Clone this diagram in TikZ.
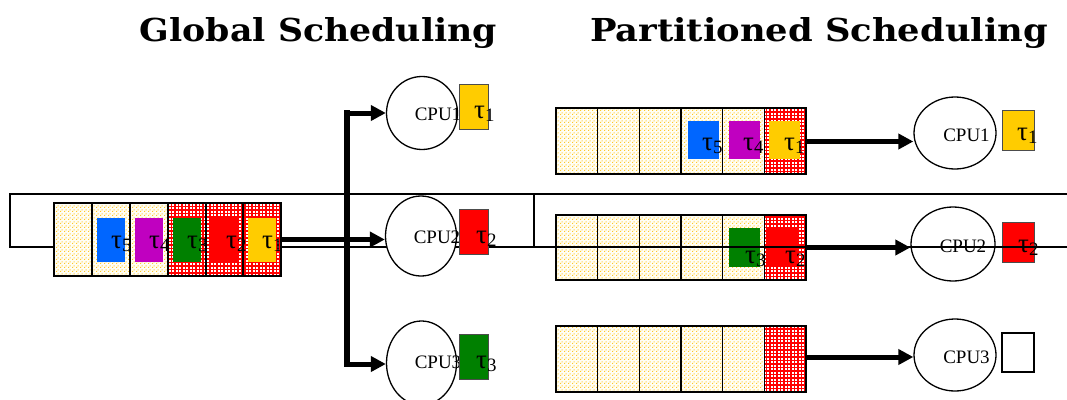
\documentclass[tikz,border=0pt]{standalone}
\usepackage{fontspec}
\setmainfont{Liberation Serif}
\newfontfamily\titlefont{DejaVu Serif}
\usetikzlibrary{arrows.meta,patterns,shapes.geometric}
\definecolor{tblue}{RGB}{0,102,255}
\definecolor{tmag}{RGB}{192,0,192}
\definecolor{tgreen}{RGB}{0,128,0}
\definecolor{tred}{RGB}{255,0,0}
\definecolor{tyel}{RGB}{255,204,0}
\definecolor{dotyel}{RGB}{255,200,40}
\pgfdeclarepatternformonly{ydots}{\pgfpointorigin}{\pgfpoint{4pt}{4pt}}{\pgfpoint{4pt}{4pt}}{%
  \pgfpathrectangle{\pgfpointorigin}{\pgfpoint{1.3pt}{1.3pt}}%
  \pgfpathrectangle{\pgfpoint{2pt}{2pt}}{\pgfpoint{1.3pt}{1.3pt}}%
  \pgfusepath{fill}}
\pgfdeclarepatternformonly{rgrid}{\pgfpoint{-1pt}{-1pt}}{\pgfpoint{4.5pt}{4.5pt}}{\pgfpoint{3.5pt}{3.5pt}}{%
  \pgfsetlinewidth{1.3pt}%
  \pgfpathmoveto{\pgfpoint{-0.5pt}{0pt}}\pgfpathlineto{\pgfpoint{4pt}{0pt}}%
  \pgfpathmoveto{\pgfpoint{0pt}{-0.5pt}}\pgfpathlineto{\pgfpoint{0pt}{4pt}}%
  \pgfusepath{stroke}}
\newcommand\taulab[1]{{\fontsize{27}{27}\selectfont τ\textsubscript{#1}}}
\begin{document}
\begin{tikzpicture}[x=1pt,y=-1pt,
  ycell/.style={draw, line width=1.3pt, inner sep=0, preaction={fill=yellow!4}, pattern=ydots, pattern color=dotyel},
  rcell/.style={draw, line width=1.3pt, inner sep=0, preaction={fill=white}, pattern=rgrid, pattern color=tred},
  task/.style={inner sep=0, draw=none},
  tbox/.style={inner sep=0, draw=black!70, line width=0.8pt},
  cpu/.style={ellipse, draw, line width=1.3pt, fill=white, inner sep=0},
  cpulab/.style={anchor=base, inner sep=0, font=\fontsize{19}{19}\selectfont},
  tlab/.style={anchor=base west, inner sep=0},
  frame/.style={line width=1.3pt},
  bigarrow/.style={line width=5pt, -{Triangle[length=15pt,width=15pt]}},
  title/.style={anchor=base, inner sep=0, font=\titlefont\bfseries\fontsize{27}{27}\selectfont}
]
\useasboundingbox (0,0) rectangle (1067,399);

% titles
\node[title] (t1) at (318.5,41) {\resizebox{357pt}{24pt}{Global Scheduling}};
\node[title] (t2) at (819,41) {\resizebox{458pt}{24pt}{Partitioned Scheduling}};

% left frame
\draw[frame] (10,194) rectangle (534,247);

% ---------- global queue ----------
\node[ycell, minimum width=38, minimum height=73] (g1) at (73,239.5) {};
\node[ycell, minimum width=38, minimum height=73] (g2) at (111,239.5) {};
\node[ycell, minimum width=38, minimum height=73] (g3) at (149,239.5) {};
\node[rcell, minimum width=38, minimum height=73] (g4) at (187,239.5) {};
\node[rcell, minimum width=37, minimum height=73] (g5) at (224.5,239.5) {};
\node[rcell, minimum width=38, minimum height=73] (g6) at (262,239.5) {};

\node[task, fill=tblue, minimum width=28, minimum height=44] (gb5) at (111,240) {};
\node[task, fill=tmag, minimum width=28, minimum height=44] (gb4) at (149,240) {};
\node[task, fill=tgreen, minimum width=28, minimum height=44] (gb3) at (186.5,240) {};
\node[task, fill=tred, minimum width=28, minimum height=44] (gb2) at (224.5,240) {};
\node[task, fill=tyel, minimum width=28, minimum height=44] (gb1) at (262,240) {};
\node[tlab] (gl5) at (111,248) {\taulab{5}};
\node[tlab] (gl4) at (149,248) {\taulab{4}};
\node[tlab] (gl3) at (187,248) {\taulab{3}};
\node[tlab] (gl2) at (226,248) {\taulab{2}};
\node[tlab] (gl1) at (262,248) {\taulab{1}};

% global CPUs
\node[cpu, minimum width=71, minimum height=73] (gc1) at (422,113) {};
\node[cpu, minimum width=71, minimum height=80] (gc2) at (421,236) {};
\node[cpu, minimum width=70, minimum height=84] (gc3) at (421.5,363) {};
\node[cpulab] (gct1) at (438,120) {CPU1};
\node[cpulab] (gct2) at (437,243) {CPU2};
\node[cpulab] (gct3) at (438,368) {CPU3};

% global arrows
\coordinate (jt) at (347,113);
\coordinate (jb) at (347,364);
\draw[line width=5.5pt, line cap=rect] (jt) -- (jb);
\draw[bigarrow] (jt) -- (jt -| gc1.west);
\draw[bigarrow] (jb) -- (jb -| gc3.west);
\draw[bigarrow] (g6.east) -- (g6.east -| gc2.west);

% global CPU task boxes
\node[tbox, fill=tyel, minimum width=29, minimum height=45] (gt1) at (473.5,106.5) {};
\node[tbox, fill=tred, minimum width=29, minimum height=45] (gt2) at (473.5,231.5) {};
\node[tbox, fill=tgreen, minimum width=29, minimum height=45] (gt3) at (473.5,356.5) {};
\node[tlab] (gtl1) at (474,118) {\taulab{1}};
\node[tlab] (gtl2) at (476,243) {\taulab{2}};
\node[tlab] (gtl3) at (476,368) {\taulab{3}};

% ---------- partitioned queues ----------
% queue 1
\node[ycell, minimum width=41.7, minimum height=66] (a1) at (576.8,141) {};
\node[ycell, minimum width=41.7, minimum height=66] (a2) at (618.5,141) {};
\node[ycell, minimum width=41.7, minimum height=66] (a3) at (660.2,141) {};
\node[ycell, minimum width=41.7, minimum height=66] (a4) at (701.8,141) {};
\node[ycell, minimum width=41.7, minimum height=66] (a5) at (743.5,141) {};
\node[rcell, minimum width=41.7, minimum height=66] (a6) at (785.2,141) {};
\node[task, fill=tblue, minimum width=31, minimum height=38] (ab5) at (703.5,140) {};
\node[task, fill=tmag, minimum width=31, minimum height=38] (ab4) at (744.5,140) {};
\node[task, fill=tyel, minimum width=31, minimum height=38] (ab1) at (784.5,140) {};
\node[tlab] (al5) at (702,150) {\taulab{5}};
\node[tlab] (al4) at (743,150) {\taulab{4}};
\node[tlab] (al1) at (784,150) {\taulab{1}};

% queue 2
\node[ycell, minimum width=41.7, minimum height=65] (b1) at (576.8,247.5) {};
\node[ycell, minimum width=41.7, minimum height=65] (b2) at (618.5,247.5) {};
\node[ycell, minimum width=41.7, minimum height=65] (b3) at (660.2,247.5) {};
\node[ycell, minimum width=41.7, minimum height=65] (b4) at (701.8,247.5) {};
\node[ycell, minimum width=41.7, minimum height=65] (b5) at (743.5,247.5) {};
\node[rcell, minimum width=41.7, minimum height=65] (b6) at (785.2,247.5) {};
\node[task, fill=tgreen, minimum width=31, minimum height=39] (bb3) at (744,247.5) {};
\node[task, fill=tred, minimum width=31, minimum height=39] (bb2) at (782,247.5) {};
\node[tlab] (bl3) at (745,263) {\taulab{3}};
\node[tlab] (bl2) at (785,263) {\taulab{2}};

% queue 3
\node[ycell, minimum width=41.7, minimum height=66] (c1) at (576.8,359) {};
\node[ycell, minimum width=41.7, minimum height=66] (c2) at (618.5,359) {};
\node[ycell, minimum width=41.7, minimum height=66] (c3) at (660.2,359) {};
\node[ycell, minimum width=41.7, minimum height=66] (c4) at (701.8,359) {};
\node[ycell, minimum width=41.7, minimum height=66] (c5) at (743.5,359) {};
\node[rcell, minimum width=41.7, minimum height=66] (c6) at (785.2,359) {};

% partitioned CPUs
\node[cpu, minimum width=82, minimum height=72] (pc1) at (955,133) {};
\node[cpu, minimum width=84, minimum height=74] (pc2) at (953,244) {};
\node[cpu, minimum width=82, minimum height=72] (pc3) at (955,355) {};
\node[cpulab] (pct1) at (966.5,141) {CPU1};
\node[cpulab] (pct2) at (963,252) {CPU2};
\node[cpulab] (pct3) at (966.5,363) {CPU3};

\draw[bigarrow] ([yshift=-0.5pt]a6.east) -- ([yshift=-0.5pt]a6.east -| pc1.west);
\draw[bigarrow] (b6.east) -- (b6.east -| pc2.west);
\draw[bigarrow] ([yshift=2pt]c6.east) -- ([yshift=2pt]c6.east -| pc3.west);

\node[tbox, fill=tyel, minimum width=32, minimum height=40] (pt1) at (1018,130) {};
\node[tbox, fill=tred, minimum width=32, minimum height=40] (pt2) at (1018,242) {};
\node[draw, line width=1.3pt, inner sep=0, fill=white, minimum width=32, minimum height=39] (pt3) at (1018,352.5) {};
\node[tlab] (ptl1) at (1017,140) {\taulab{1}};
\node[tlab] (ptl2) at (1018,252) {\taulab{2}};

% right frame lines
\draw[frame] (534,194) -- (1067,194);
\draw[frame] (534,247) -- (1067,247);
\end{tikzpicture}
\end{document}
